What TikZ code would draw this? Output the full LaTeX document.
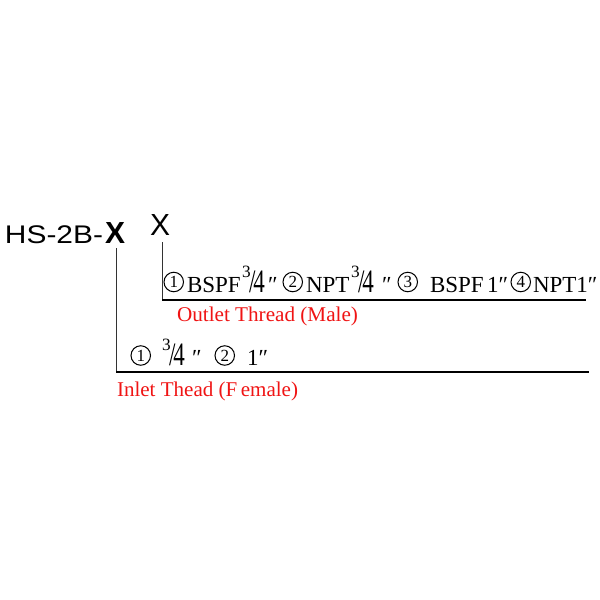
\documentclass[tikz,border=0pt]{standalone}
\usepackage{fontspec}
\usepackage{graphicx}
\setmainfont{Liberation Serif}
\newfontfamily\hsfont{Liberation Sans}
\definecolor{labelred}{RGB}{240,20,20}
\newcommand{\frq}{\raisebox{0.62em}{\scalebox{0.75}{3}}\kern-0.06em\scalebox{1}[1.42]{/\kern-0.1em4}}
\begin{document}
\begin{tikzpicture}[x=1pt,y=-1pt,
  txt/.style={anchor=base west, inner sep=0pt, outer sep=0pt},
  tok/.style={txt, font=\fontsize{23}{23}\selectfont},
  circ/.style={circle, draw=black, line width=1pt, minimum size=19.5pt, inner sep=0pt, outer sep=0pt,
    anchor=west, font=\fontsize{17}{17}\selectfont},
  lab/.style={txt, text=labelred, font=\fontsize{21}{21}\selectfont},
  leader/.style={line width=0.9pt, draw=black!80},
  baseline/.style={line width=1.5pt, draw=black}]
\useasboundingbox (0,0) rectangle (600,600);
\fill[white] (0,0) rectangle (600,600);
% code parts
\node[txt] (code) at (5,243) {\resizebox{98pt}{\height}{\hsfont\fontsize{25.5}{25}\selectfont HS-2B-}};
\node[txt] (x1) at (105,243) {\resizebox{20pt}{\height}{\hsfont\bfseries\fontsize{30.5}{30}\selectfont X}};
\node[txt] (x2) at (150,235) {\resizebox{20pt}{\height}{\hsfont\fontsize{30.5}{30}\selectfont X}};
% outlet options (baseline 292)
\node[circ] (o1) at (164,282) {1};
\node[tok] (o2) at (187,292) {BSPF};
\node[tok] (o3) at (242,292) {\frq};
\node[tok] (o4) at (268,292) {″};
\node[circ] (o5) at (283,282) {2};
\node[tok] (o6) at (306,292) {NPT};
\node[tok] (o7) at (351,292) {\frq};
\node[tok] (o8) at (382,292) {″};
\node[circ] (o9) at (398,282) {3};
\node[tok] (o10) at (430,292) {BSPF};
\node[tok] (o11) at (487,292) {1″};
\node[circ] (o12) at (511,282) {4};
\node[tok] (o13) at (533,292) {NPT1″};
\node[lab] (outlab) at (177,321) {\resizebox{181pt}{\height}{Outlet Thread (Male)}};
% inlet options (baseline 365)
\node[circ] (i1) at (131,355.5) {1};
\node[tok] (i2) at (162,365) {\frq};
\node[tok] (i3) at (192,365) {″};
\node[circ] (i4) at (215,355.5) {2};
\node[tok] (i5) at (247,365) {1″};
\node[lab] (inlab) at (117,396) {\resizebox{181pt}{\height}{Inlet Thead (F\,emale)}};
% leader lines
\coordinate (inL) at (116,372);
\coordinate (inR) at (589,372);
\coordinate (outL) at (162,300);
\coordinate (outR) at (586,300);
\draw[leader] ([yshift=-5pt]x1.south -| inL) -- (inL);
\draw[baseline] (inL) -- (inR);
\draw[leader] ([yshift=-7pt]x2.south -| outL) -- (outL);
\draw[baseline] (outL) -- (outR);
\end{tikzpicture}
\end{document}
